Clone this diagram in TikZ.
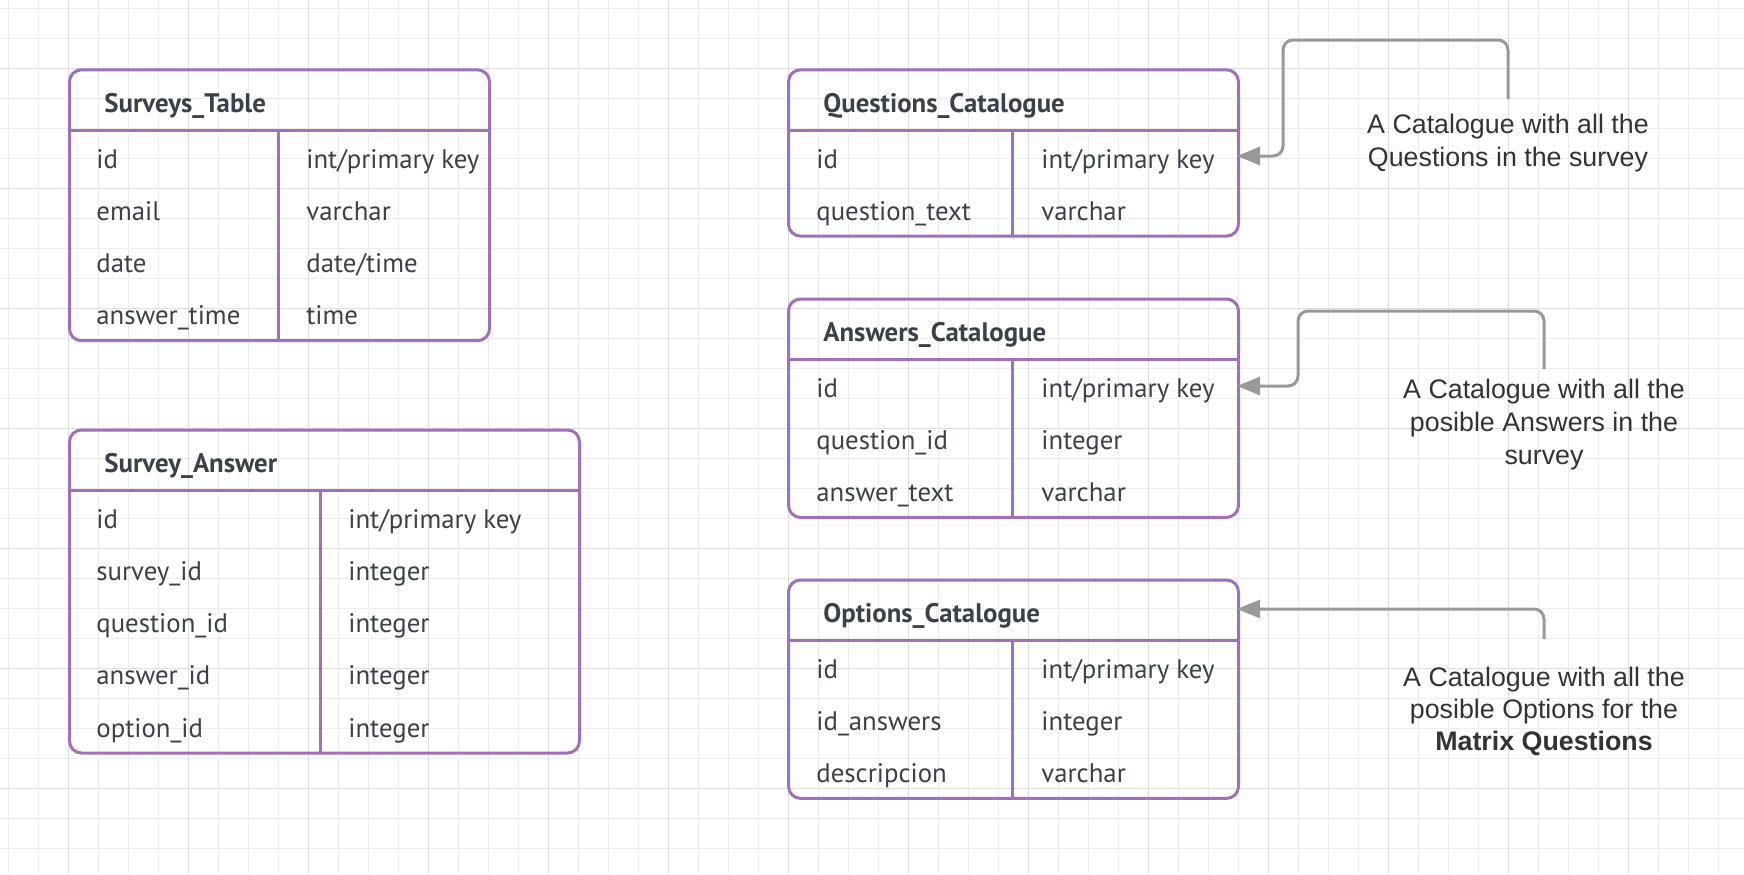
\documentclass[tikz,border=0pt]{standalone}
\usepackage{fontspec}
\setmainfont{Liberation Sans}
\newfontfamily\ptsans{PT Sans}
\usetikzlibrary{arrows.meta}
\definecolor{erdpurple}{HTML}{A070BA}
\definecolor{ink}{HTML}{3A414A}
\definecolor{notetext}{HTML}{333333}
\definecolor{linkgrey}{HTML}{999999}
\definecolor{gridminor}{HTML}{EDEDED}
\definecolor{gridmajor}{HTML}{DEDEDE}
\tikzset{
  tbl/.style={draw=erdpurple, line width=1.5pt, rounded corners=6pt, inner sep=0pt, anchor=north west},
  sepline/.style={draw=erdpurple, line width=1.5pt},
  ttl/.style={font=\ptsans\bfseries\fontsize{13.4}{16}\selectfont, text=ink, anchor=base west, inner sep=0pt},
  cell/.style={font=\ptsans\fontsize{13.4}{16}\selectfont, text=ink, anchor=base west, inner sep=0pt},
  note/.style={font=\fontsize{13.4}{16}\selectfont, text=notetext, anchor=base, inner sep=0pt},
  link/.style={draw=linkgrey, line width=1.5pt, rounded corners=5pt, -{Triangle[length=11.5pt,width=9pt]}},
  gminor/.style={draw=gridminor, line width=0.5pt},
  gmajor/.style={draw=gridmajor, line width=0.5pt}
}
\begin{document}
\begin{tikzpicture}[x=0.5pt, y=-0.5pt]
\useasboundingbox (0,0) rectangle (1744,874);
\fill[white] (0,0) rectangle (1744,874);
% grid
\foreach \i in {0,...,58} \draw[gminor] ({8.3+30*\i},0) -- ({8.3+30*\i},874);
\foreach \j in {0,...,29} \draw[gminor] (0,{8.3+30*\j}) -- (1744,{8.3+30*\j});
\foreach \i in {0,...,13} \draw[gmajor] ({68.3+120*\i},0) -- ({68.3+120*\i},874);
\foreach \j in {0,...,6} \draw[gmajor] (0,{68.3+120*\j}) -- (1744,{68.3+120*\j});

% ---------- Surveys_Table ----------
\node[tbl, minimum width=210pt, minimum height=135.45pt] (st) at (68,68.3) {};
\draw[sepline] (68,130) -- (488,130);
\draw[sepline] (278,130) -- (278,339.2);
\node[ttl] (stt) at (104,112) {Surveys\_Table};
\node[cell] (st1a) at (96,168) {id};
\node[cell] (st1b) at (306,168) {int/primary key};
\node[cell] (st2a) at (96,220.3) {email};
\node[cell] (st2b) at (306,220.3) {varchar};
\node[cell] (st3a) at (96,272.6) {date};
\node[cell] (st3b) at (306,272.6) {date/time};
\node[cell] (st4a) at (96,324.9) {answer\_time};
\node[cell] (st4b) at (306,324.9) {time};

% ---------- Survey_Answer ----------
\node[tbl, minimum width=255pt, minimum height=161.5pt] (sa) at (68,428.5) {};
\draw[sepline] (68,490) -- (578,490);
\draw[sepline] (320,490) -- (320,751.5);
\node[ttl] (sat) at (104,472) {Survey\_Answer};
\node[cell] (sa1a) at (96,528) {id};
\node[cell] (sa1b) at (348,528) {int/primary key};
\node[cell] (sa2a) at (96,580.3) {survey\_id};
\node[cell] (sa2b) at (348,580.3) {integer};
\node[cell] (sa3a) at (96,632.6) {question\_id};
\node[cell] (sa3b) at (348,632.6) {integer};
\node[cell] (sa4a) at (96,684.9) {answer\_id};
\node[cell] (sa4b) at (348,684.9) {integer};
\node[cell] (sa5a) at (96,737.2) {option\_id};
\node[cell] (sa5b) at (348,737.2) {integer};

% ---------- Questions_Catalogue ----------
\node[tbl, minimum width=225pt, minimum height=83.15pt] (qc) at (787,68.3) {};
\draw[sepline] (787,130) -- (1237,130);
\draw[sepline] (1012,130) -- (1012,234.6);
\node[ttl] (qct) at (823,112) {Questions\_Catalogue};
\node[cell] (qc1a) at (816,168) {id};
\node[cell] (qc1b) at (1041,168) {int/primary key};
\node[cell] (qc2a) at (816,220.3) {question\_text};
\node[cell] (qc2b) at (1041,220.3) {varchar};

% ---------- Answers_Catalogue ----------
\node[tbl, minimum width=225pt, minimum height=109.2pt] (ac) at (787,297.5) {};
\draw[sepline] (787,359) -- (1237,359);
\draw[sepline] (1012,359) -- (1012,515.9);
\node[ttl] (act) at (823,341) {Answers\_Catalogue};
\node[cell] (ac1a) at (816,397) {id};
\node[cell] (ac1b) at (1041,397) {int/primary key};
\node[cell] (ac2a) at (816,449.3) {question\_id};
\node[cell] (ac2b) at (1041,449.3) {integer};
\node[cell] (ac3a) at (816,501.6) {answer\_text};
\node[cell] (ac3b) at (1041,501.6) {varchar};

% ---------- Options_Catalogue ----------
\node[tbl, minimum width=225pt, minimum height=109.2pt] (oc) at (787,578.5) {};
\draw[sepline] (787,640) -- (1237,640);
\draw[sepline] (1012,640) -- (1012,796.9);
\node[ttl] (oct) at (823,622) {Options\_Catalogue};
\node[cell] (oc1a) at (816,678) {id};
\node[cell] (oc1b) at (1041,678) {int/primary key};
\node[cell] (oc2a) at (816,730.3) {id\_answers};
\node[cell] (oc2b) at (1041,730.3) {integer};
\node[cell] (oc3a) at (816,782.6) {descripcion};
\node[cell] (oc3b) at (1041,782.6) {varchar};

% ---------- Notes ----------
\node[note] (n1a) at (1508,133) {A Catalogue with all the};
\node[note] (n1b) at (1508,166) {Questions in the survey};
\node[note] (n2a) at (1544,398) {A Catalogue with all the};
\node[note] (n2b) at (1544,431) {posible Answers in the};
\node[note] (n2c) at (1544,464) {survey};
\node[note] (n3a) at (1544,686) {A Catalogue with all the};
\node[note] (n3b) at (1544,718) {posible Options for the};
\node[note, font=\bfseries\fontsize{13.4}{16}\selectfont] (n3c) at (1544,750) {Matrix Questions};

% ---------- Connectors ----------
\coordinate (n1top) at (1508,99);
\coordinate (n2top) at (1544,369);
\coordinate (n3top) at (1544,639);
\coordinate (qcin) at (1237,156);
\coordinate (acin) at (1237,386);
\coordinate (ocin) at (1237,609);
\draw[link] (n1top) -- (1508,40) -- (1283,40) -- (1283,156) -- (qcin);
\draw[link] (n2top) -- (1544,311) -- (1298,311) -- (1298,386) -- (acin);
\draw[link] (n3top) -- (1544,609) -- (ocin);
\end{tikzpicture}
\end{document}
